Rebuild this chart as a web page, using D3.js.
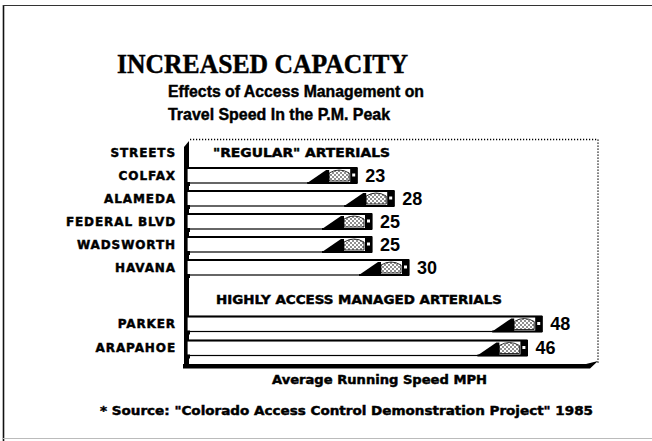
<!DOCTYPE html>
<html>
<head>
<meta charset="utf-8">
<script src="https://cdn.jsdelivr.net/npm/d3@7"></script>
<style>
  body { margin: 0; background: #fff; }
  text { font-family: "DejaVu Sans", "Liberation Sans", Arial, sans-serif; font-weight: bold; fill: #000; }
  .heavy { stroke: #000; stroke-width: 0.45px; }
</style>
</head>
<body>
<svg width="652" height="441"></svg>
<script>
// chart data
var regularStreets = ["COLFAX", "ALAMEDA", "FEDERAL BLVD", "WADSWORTH", "HAVANA"];
var regularSpeeds = [23, 28, 25, 25, 30];
var managedStreets = ["PARKER", "ARAPAHOE"];
var managedSpeeds = [48, 46];
var groupTitles = ['"REGULAR" ARTERIALS', "HIGHLY ACCESS MANAGED ARTERIALS"];
var headerLabel = "STREETS";
var speedDomain = [0, 55];

var svg = d3.select("svg");

// outer frame (scanned look)
svg.append("line").attr("x1", 3.5).attr("y1", 5).attr("x2", 3.5).attr("y2", 441)
    .attr("stroke", "#111").attr("stroke-width", 1.6);
svg.append("line").attr("x1", 3).attr("y1", 5.5).attr("x2", 652).attr("y2", 5.5)
    .attr("stroke", "#333").attr("stroke-width", 1.2);
svg.append("line").attr("x1", 3).attr("y1", 438.5).attr("x2", 652).attr("y2", 438.5)
    .attr("stroke", "#bbb").attr("stroke-width", 1);

// titles
svg.append("text").attr("x", 117).attr("y", 73)
    .attr("class", "heavy")
    .attr("textLength", 291).attr("lengthAdjust", "spacingAndGlyphs")
    .style("font-family", "'Liberation Serif', 'DejaVu Serif', serif")
    .style("font-size", "28px")
    .text("INCREASED CAPACITY");
svg.append("text").attr("x", 168).attr("y", 97)
    .attr("class", "heavy")
    .attr("textLength", 256).attr("lengthAdjust", "spacingAndGlyphs")
    .style("font-family", "'Liberation Sans', Arial, sans-serif")
    .style("font-size", "17px")
    .text("Effects of Access Management on");
svg.append("text").attr("x", 168).attr("y", 120)
    .attr("class", "heavy")
    .attr("textLength", 222).attr("lengthAdjust", "spacingAndGlyphs")
    .style("font-family", "'Liberation Sans', Arial, sans-serif")
    .style("font-size", "17px")
    .text("Travel Speed In the P.M. Peak");

// scales
var x = d3.scaleLinear().domain(speedDomain).range([187, 594]);
var yReg = d3.scaleBand().domain([headerLabel].concat(regularStreets)).range([141, 279]);
var yMan = d3.scaleBand().domain(["hdr"].concat(managedStreets)).range([288, 360]);

var defs = svg.append("defs");
var pat = defs.append("pattern").attr("id", "stip")
    .attr("width", 4).attr("height", 4).attr("patternUnits", "userSpaceOnUse");
pat.append("rect").attr("width", 4).attr("height", 4).attr("fill", "#fff");
pat.append("circle").attr("cx", 1).attr("cy", 1).attr("r", 0.8).attr("fill", "#000");
pat.append("circle").attr("cx", 3).attr("cy", 3).attr("r", 0.8).attr("fill", "#000");

// plot frame: dotted back box
var x0 = x(0), xr = x(speedDomain[1]) + 4;
svg.append("path")
    .attr("d", "M" + (x0 + 3) + ",139.5 L" + xr + ",139.5 L" + xr + ",363")
    .attr("fill", "none").attr("stroke", "#000").attr("stroke-width", 1.3)
    .attr("stroke-dasharray", "1.2,1.8");

// left wall
svg.append("path")
    .attr("d", "M184,147 L189,141 L189,368 L184,368 Z")
    .attr("fill", "#000");
// floor
svg.append("path")
    .attr("d", "M183,364 L" + (xr - 12) + ",364 L" + xr + ",361 L" + (xr - 8) + ",368.5 L183,368.5 Z")
    .attr("fill", "#000");

var rows = regularStreets.map(function(s, i) {
    return { name: s, v: regularSpeeds[i], y: yReg(s) + yReg.bandwidth() / 2 };
}).concat(managedStreets.map(function(s, i) {
    return { name: s, v: managedSpeeds[i], y: yMan(s) + yMan.bandwidth() / 2 };
}));

// row labels
var labels = [{ name: headerLabel, y: yReg(headerLabel) + yReg.bandwidth() / 2 }].concat(rows);
svg.selectAll("text.lab").data(labels).enter().append("text")
    .attr("class", "lab heavy")
    .attr("x", 176).attr("y", d => d.y)
    .attr("dy", "0.36em")
    .attr("text-anchor", "end")
    .style("font-size", "12px")
    .style("letter-spacing", "0.9px")
    .text(d => d.name);

// group titles inside plot
svg.append("text").attr("x", 213).attr("y", yReg(headerLabel) + yReg.bandwidth() / 2)
    .attr("class", "heavy")
    .attr("dy", "0.36em").attr("textLength", 177).attr("lengthAdjust", "spacingAndGlyphs")
    .style("font-size", "12px").text(groupTitles[0]);
svg.append("text").attr("x", 216).attr("y", yMan("hdr") + yMan.bandwidth() / 2)
    .attr("class", "heavy")
    .attr("dy", "0.36em").attr("textLength", 286).attr("lengthAdjust", "spacingAndGlyphs")
    .style("font-size", "12px").text(groupTitles[1]);

// bars
var bh = 15;
var bars = svg.selectAll("g.bar").data(rows).enter().append("g").attr("class", "bar");

bars.append("rect")
    .attr("x", x0).attr("y", d => d.y - bh / 2)
    .attr("width", d => x(d.v) - x0).attr("height", bh)
    .attr("fill", "#fff").attr("stroke", "#000").attr("stroke-width", 1.2);
bars.append("line")
    .attr("x1", x0).attr("x2", d => x(d.v))
    .attr("y1", d => d.y - bh / 2).attr("y2", d => d.y - bh / 2)
    .attr("stroke", "#000").attr("stroke-width", 2.2);
// shadow tick on the wall
bars.append("rect")
    .attr("x", x0 - 3).attr("y", d => d.y + bh / 2 - 1)
    .attr("width", 6).attr("height", 4).attr("fill", "#000");

// car shaped end cap
bars.append("path")
    .attr("d", function(d) {
        var e = x(d.v), t = d.y - bh / 2, b = d.y + bh / 2;
        return "M" + (e - 50) + "," + b + " L" + (e - 31) + "," + (t + 2) +
            " L" + (e - 28) + "," + (t + 2) + " L" + (e - 28) + "," + b + " Z";
    })
    .attr("fill", "#000");
bars.append("path")
    .attr("d", function(d) {
        var e = x(d.v), t = d.y - bh / 2, b = d.y + bh / 2;
        return "M" + (e - 28) + "," + (b - 2) + " L" + (e - 28) + "," + (t + 5) +
            " Q" + (e - 18) + "," + (t - 1) + " " + (e - 8) + "," + (t + 5) +
            " L" + (e - 8) + "," + (b - 2) + " Z";
    })
    .attr("fill", "url(#stip)").attr("stroke", "#000").attr("stroke-width", 0.8);
bars.append("rect")
    .attr("x", d => x(d.v) - 7).attr("y", d => d.y - bh / 2)
    .attr("width", 7).attr("height", bh).attr("fill", "#000");
bars.append("rect")
    .attr("x", d => x(d.v) - 5).attr("y", d => d.y - 2)
    .attr("width", 3).attr("height", 3).attr("fill", "#fff");
bars.append("line")
    .attr("x1", d => x(d.v) - 50).attr("x2", d => x(d.v))
    .attr("y1", d => d.y + bh / 2).attr("y2", d => d.y + bh / 2)
    .attr("stroke", "#000").attr("stroke-width", 2);

// value labels
bars.append("text")
    .attr("x", d => x(d.v) + 8).attr("y", d => d.y)
    .attr("dy", "0.36em")
    .style("font-family", "'Liberation Sans', Arial, sans-serif")
    .style("font-size", "18px")
    .text(d => d.v);

// axis title and source note
svg.append("text").attr("x", 272).attr("y", 384)
    .attr("class", "heavy")
    .attr("textLength", 215).attr("lengthAdjust", "spacingAndGlyphs")
    .style("font-size", "12px").text("Average Running Speed MPH");
svg.append("text").attr("x", 100).attr("y", 415)
    .attr("class", "heavy")
    .attr("textLength", 493).attr("lengthAdjust", "spacingAndGlyphs")
    .style("font-size", "12px")
    .text('* Source: "Colorado Access Control Demonstration Project" 1985');
</script>
</body>
</html>
